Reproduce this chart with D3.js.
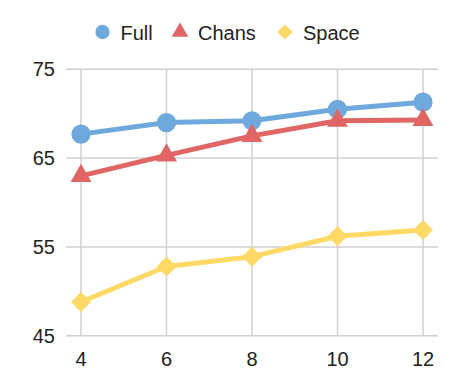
<!DOCTYPE html>
<html>
<head>
<meta charset="utf-8">
<script src="https://cdn.jsdelivr.net/npm/d3@7"></script>
<style>
  body { margin: 0; background: #fff; }
  text { font-family: "Liberation Sans", Arial, sans-serif; fill: #222; }
</style>
</head>
<body>
<svg id="chart" width="458" height="391"></svg>
<script>
// data
const xValues = [4, 6, 8, 10, 12];
const yTicks = [45, 55, 65, 75];
const seriesNames = ['Full', 'Chans', 'Space'];
const full = [67.7, 69.0, 69.2, 70.5, 71.3];
const chans = [63.0, 65.3, 67.5, 69.2, 69.3];
const space = [48.8, 52.8, 53.9, 56.2, 56.9];

// colors
const BLUE = '#6fa8dc';
const RED = '#e06666';
const YELLOW = '#ffd966';
const GRID = '#d0d0d0';

// diamond = square turned 45 degrees
const series = [
  { name: seriesNames[0], values: full, color: BLUE, shape: d3.symbolCircle, size: 290, rot: 0, legendSize: 160 },
  { name: seriesNames[1], values: chans, color: RED, shape: d3.symbolTriangle, size: 190, rot: 0, legendSize: 120 },
  { name: seriesNames[2], values: space, color: YELLOW, shape: d3.symbolSquare, size: 200, rot: 45, legendSize: 112 }
];

const svg = d3.select('#chart');

// plot area
const left = 66, right = 438;
const x = d3.scaleLinear().domain([4, 12]).range([81, 423]);
const y = d3.scaleLinear().domain([45, 75]).range([335.7, 69.3]);

// horizontal grid + y labels
svg.selectAll('.hgrid')
  .data(yTicks)
  .join('line')
  .attr('x1', left).attr('x2', right)
  .attr('y1', y).attr('y2', y)
  .attr('stroke', GRID).attr('stroke-width', 1.5);

svg.selectAll('.ylab')
  .data(yTicks)
  .join('text')
  .attr('x', 55)
  .attr('y', d => y(d) + 7)
  .attr('text-anchor', 'end')
  .style('font-size', '20px')
  .text(d => d);

// vertical grid + x labels
svg.selectAll('.vgrid')
  .data(xValues)
  .join('line')
  .attr('x1', x).attr('x2', x)
  .attr('y1', y(75)).attr('y2', y(45))
  .attr('stroke', GRID).attr('stroke-width', 1.5);

svg.selectAll('.xlab')
  .data(xValues)
  .join('text')
  .attr('x', x)
  .attr('y', 366)
  .attr('text-anchor', 'middle')
  .style('font-size', '20px')
  .text(d => d);

// lines and markers
const line = d3.line()
  .x((d, i) => x(xValues[i]))
  .y(d => y(d));

series.forEach(s => {
  svg.append('path')
    .datum(s.values)
    .attr('d', line)
    .attr('fill', 'none')
    .attr('stroke', s.color)
    .attr('stroke-width', 5)
    .attr('stroke-linejoin', 'round');

  svg.selectAll(null)
    .data(s.values)
    .join('path')
    .attr('transform', (d, i) => `translate(${x(xValues[i])},${y(d)}) rotate(${s.rot})`)
    .attr('d', d3.symbol().type(s.shape).size(s.size))
    .attr('fill', s.color);
});

// legend
const legendX = [102.5, 180, 285];
const legend = svg.selectAll('.legend')
  .data(series)
  .join('g')
  .attr('transform', (d, i) => `translate(${legendX[i]},32)`);

legend.append('path')
  .attr('transform', d => `rotate(${d.rot})`)
  .attr('d', d => d3.symbol().type(d.shape).size(d.legendSize)())
  .attr('fill', d => d.color);

legend.append('text')
  .attr('x', 18)
  .attr('y', 8)
  .style('font-size', '20px')
  .text(d => d.name);
</script>
</body>
</html>
